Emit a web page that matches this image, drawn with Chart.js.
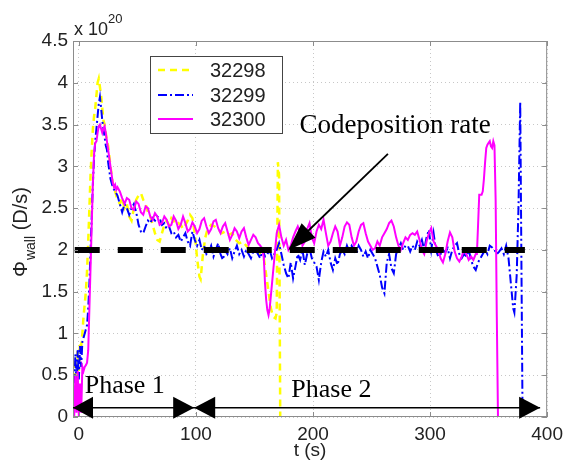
<!DOCTYPE html>
<html>
<head>
<meta charset="utf-8">
<script src="https://cdn.jsdelivr.net/npm/chart.js@4.4.0/dist/chart.umd.min.js"></script>
<style>
  html, body { margin: 0; padding: 0; background: #fff; }
</style>
</head>
<body>
<canvas id="wallFlux" width="569" height="464"></canvas>
<script>
// shots
const shotNames = ['32298', '32299', '32300'];

// shot 32298 (yellow dashed)
const t32298 = [-4,-3,-2,-1,0,1,2,3,4,5,6,7,8,9,10,11,12,13,14,15,16,17,18,19,20,21,22,23,24,25,
  27,29,31,33,35,37,39,41,43,45,47,49,51,53,55,57,59,61,63,65,67,69,71,73,75,77,79,81,83,85,
  87,89,91,93,95,97,99,101,103,104,106,108,110,113,116,119,122,125,128,131,134,137,140,143,146,149,
  152,155,158,160,162,164,166,168,169,170,171,172];
const phi32298 = [0.3,0.7,0.4,0.8,0.55,0.9,0.85,1.0,1.2,1.35,1.5,1.75,2.1,2.5,2.9,3.2,3.45,3.6,3.7,3.85,
  4.0,4.05,3.95,3.85,3.7,3.55,3.5,3.4,3.3,3.25,
  3.0,2.8,2.7,2.6,2.55,2.62,2.5,2.55,2.4,2.35,2.5,2.6,2.65,2.68,2.6,2.55,2.45,2.4,2.3,2.2,
  2.12,2.1,2.2,2.3,2.35,2.3,2.38,2.35,2.3,2.32,2.3,2.25,2.3,2.35,2.42,2.38,2.2,
  1.9,1.68,1.65,1.95,2.15,2.25,
  2.3,2.28,2.25,2.2,2.22,2.18,2.2,2.12,2.08,2.1,2.05,2.02,2.0,
  1.98,1.95,1.9,1.7,1.5,1.3,1.2,1.18,1.25,3.05,2.9,0];

// shot 32299 (blue dash-dot)
const t32299 = [-4,-3,-2,-1,0,1,2,3,4,5,6,7,8,9,10,11,12,13,14,15,16,17,18,19,20,21,22,23,24,25,
  27,29,31,33,35,37,39,41,43,45,
  47,49,51,53,55,57,59,61,63,65,
  67,69,71,73,75,77,79,81,83,85,
  87,89,91,93,95,97,99,101,103,105,
  107,109,111,113,115,117,119,121,123,125,
  127,129,131,133,135,137,139,141,143,145,
  147,149,151,153,155,157,159,161,163,165,
  167,169,171,173,175,177,179,181,183,185,
  187,189,191,193,195,197,199,201,203,205,
  207,209,211,213,215,217,219,221,223,225,
  227,229,231,233,235,237,239,241,243,245,
  247,249,251,253,255,257,259,261,263,265,
  267,269,271,273,275,277,279,281,283,285,
  287,289,291,293,295,297,299,301,303,305,
  307,309,311,313,315,317,319,321,323,325,
  327,329,331,333,335,337,339,341,343,345,
  347,349,351,353,355,357,359,361,363,365,
  367,369,371,372,374,375.5,377,379];
const phi32299 = [0.2,0.75,0.3,0.8,0.45,0.85,0.6,0.9,0.95,1.0,1.05,1.1,1.3,1.6,2.0,2.4,2.8,3.1,3.3,3.45,
  3.6,3.75,3.83,3.7,3.55,3.45,3.35,3.25,3.2,3.05,
  2.85,2.75,2.7,2.65,2.55,2.45,2.55,2.5,2.42,2.5,
  2.55,2.45,2.3,2.22,2.2,2.28,2.35,2.32,2.38,2.35,
  2.4,2.38,2.3,2.32,2.25,2.28,2.2,2.22,2.15,2.18,
  2.1,2.15,2.2,2.1,2.05,2.22,2.12,2.05,2.12,2.0,
  2.05,1.95,1.98,2.05,1.92,2.0,2.08,1.95,1.88,2.0,
  1.95,2.02,1.9,1.98,2.05,1.95,2.0,1.92,2.0,1.95,
  1.9,1.98,2.0,1.95,1.9,2.0,1.92,1.95,2.0,1.9,
  1.95,2.0,2.08,1.95,1.82,1.72,1.66,1.85,1.66,1.8,
  1.95,1.88,2.0,1.82,1.95,2.02,1.9,1.85,1.8,1.64,
  1.85,1.98,1.92,2.0,1.85,1.76,1.9,1.82,1.95,2.0,
  1.95,2.05,1.98,2.05,2.0,1.95,2.05,2.0,1.92,1.98,
  1.9,2.0,1.95,1.9,1.8,1.7,1.55,1.48,1.85,1.95,
  1.78,1.72,1.95,2.02,2.08,2.0,2.05,2.05,1.98,2.05,
  2.0,2.1,2.05,2.12,2.0,2.15,2.24,2.0,2.2,2.0,
  1.92,1.95,2.0,1.97,2.02,1.9,2.0,2.05,2.08,1.95,
  1.9,1.95,1.92,2.0,1.88,1.8,1.76,1.85,1.9,1.95,
  2.0,1.95,2.05,2.03,2.0,1.95,1.98,2.02,1.95,2.05,
  1.9,1.6,1.3,1.25,1.7,2.5,3.77,0];

// shot 32300 (magenta solid)
const t32300 = [-4,-3,-2,-1,0,1,2,3,4,5,6,7,8,9,10,11,12,13,14,15,16,17,18,19,20,21,22,23,24,25,
  26,27,28,29,30,31,32,33,
  35,37,39,41,43,45,47,49,51,53,
  55,57,59,61,63,65,67,69,71,73,
  75,77,79,81,83,85,87,89,91,93,
  95,97,99,101,103,105,107,109,111,113,
  115,117,119,121,123,125,127,129,131,133,
  135,137,139,141,143,145,147,149,151,153,
  155,157,
  158,159,160,161,162,163,164,165,166,167,168,169,
  171,173,175,177,179,181,183,185,187,189,
  191,193,195,197,199,201,203,205,207,209,
  211,213,215,217,219,221,223,225,227,229,
  231,233,235,237,239,241,243,245,247,249,
  251,253,255,257,259,261,263,265,267,269,
  271,273,275,277,279,281,283,285,287,289,
  291,293,295,297,299,301,303,305,307,309,
  311,313,315,317,319,321,323,325,327,329,
  331,333,335,337,339,
  340,341,342,343,344,345,346,347,348,349,350,351,352,353,354,355,356,357,358];
const phi32300 = [0.0,0.5,0.05,0.55,0.0,0.4,0.05,0.6,0.55,0.6,0.62,0.65,0.8,1.3,1.8,2.3,2.8,3.15,3.28,3.3,
  3.4,3.48,3.5,3.45,3.4,3.45,3.48,3.4,3.3,3.2,
  3.1,3.0,2.9,2.8,2.75,2.78,2.72,2.75,
  2.7,2.62,2.55,2.62,2.6,2.5,2.48,2.58,2.55,2.45,
  2.42,2.52,2.5,2.4,2.36,2.44,2.4,2.3,2.32,2.4,
  2.36,2.28,2.3,2.4,2.35,2.25,2.3,2.4,2.32,2.22,
  2.25,2.33,2.28,2.2,2.25,2.35,2.38,2.28,2.2,2.25,
  2.34,2.36,2.26,2.2,2.28,2.32,2.22,2.12,2.18,2.26,
  2.22,2.14,2.22,2.26,2.15,2.06,2.12,2.18,2.15,2.08,
  2.05,2.0,
  1.9,1.6,1.4,1.28,1.22,1.3,1.45,1.6,1.75,1.9,2.05,2.2,
  2.3,2.15,2.05,2.12,2.0,2.05,2.15,2.22,2.28,2.2,
  2.05,2.1,2.25,2.32,2.15,2.08,2.22,2.3,2.25,2.36,
  2.2,2.05,2.1,2.2,2.28,2.22,2.05,2.15,2.28,2.33,
  2.3,2.15,2.05,2.1,2.22,2.3,2.32,2.2,2.1,2.05,
  2.0,2.02,2.1,2.05,2.15,2.2,2.25,2.32,2.35,2.28,
  2.15,2.05,2.0,2.08,2.15,2.12,2.18,2.2,2.18,2.22,
  2.12,2.0,1.95,2.1,2.2,2.26,2.1,2.05,2.0,1.9,
  1.85,1.95,2.1,2.21,2.15,1.98,1.9,1.86,1.92,2.0,
  1.95,1.88,1.92,1.88,1.95,
  1.95,2.3,2.66,2.66,2.66,2.7,2.85,3.05,3.22,3.26,3.28,3.3,3.24,3.22,3.3,3.25,2.6,1.2,0];

// codeposition rate (dashed black line)
const codepRate = 2.0;
const codepSpan = [-3.5, 381];

// axes
const xTicks = [0, 100, 200, 300, 400];
const xTickLabels = ['0', '100', '200', '300', '400'];
const yTicks = [0, 0.5, 1, 1.5, 2, 2.5, 3, 3.5, 4, 4.5];
const yTickLabels = ['0', '0.5', '1', '1.5', '2', '2.5', '3', '3.5', '4', '4.5'];

// annotations (data coords)
const phaseBounds = [-5, 98.5, 394];
const phaseLevel = 0.11;
const phaseLabels = ['Phase 1', 'Phase 2'];
const phaseLabelPos = [[5, 0.29], [181.5, 0.24]];
const codepLabel = 'Codeposition rate';
const codepLabelPos = [188.5, 3.4];
const codepArrow = [[264, 3.15], [179, 2.0]];

const pts = (ts, vs) => ts.map((t, i) => ({x: t, y: vs[i]}));

function arrowHead(ctx, tx, ty, ux, uy, len, hw) {
  const bx = tx - ux * len, by = ty - uy * len;
  ctx.beginPath();
  ctx.moveTo(tx, ty);
  ctx.lineTo(bx - uy * hw, by + ux * hw);
  ctx.lineTo(bx + uy * hw, by - ux * hw);
  ctx.closePath();
  ctx.fill();
}

const figureExtras = {
  id: 'figureExtras',
  afterDatasetsDraw(chart) {
    const {ctx, chartArea: a, scales: {x, y}} = chart;
    ctx.save();
    // box + inward ticks
    ctx.strokeStyle = '#8c8c8c';
    ctx.lineWidth = 1;
    ctx.strokeRect(a.left + 0.5, a.top + 0.5, a.right - a.left - 1, a.bottom - a.top - 1);
    ctx.beginPath();
    for (const v of xTicks) {
      const p = Math.round(x.getPixelForValue(v)) + 0.5;
      ctx.moveTo(p, a.bottom); ctx.lineTo(p, a.bottom - 5);
      ctx.moveTo(p, a.top); ctx.lineTo(p, a.top + 5);
    }
    for (const v of yTicks) {
      const p = Math.round(y.getPixelForValue(v)) + 0.5;
      ctx.moveTo(a.left, p); ctx.lineTo(a.left + 5, p);
      ctx.moveTo(a.right, p); ctx.lineTo(a.right - 5, p);
    }
    ctx.stroke();

    // phase arrows
    ctx.strokeStyle = '#000';
    ctx.fillStyle = '#000';
    ctx.lineWidth = 1.5;
    const ay = y.getPixelForValue(phaseLevel);
    const [p0, p1, p2] = phaseBounds.map(v => x.getPixelForValue(v));
    ctx.beginPath(); ctx.moveTo(p0, ay); ctx.lineTo(p2, ay); ctx.stroke();
    arrowHead(ctx, p0, ay, -1, 0, 20, 11);
    arrowHead(ctx, p1, ay, 1, 0, 21, 11);
    arrowHead(ctx, p1, ay, -1, 0, 21, 11);
    arrowHead(ctx, p2, ay, 1, 0, 21, 11);

    ctx.font = '26px "Liberation Serif"';
    ctx.textAlign = 'left';
    ctx.textBaseline = 'alphabetic';
    phaseLabels.forEach((s, i) => {
      ctx.fillText(s, x.getPixelForValue(phaseLabelPos[i][0]), y.getPixelForValue(phaseLabelPos[i][1]));
    });

    // codeposition label + arrow
    ctx.font = '27px "Liberation Serif"';
    ctx.fillText(codepLabel, x.getPixelForValue(codepLabelPos[0]), y.getPixelForValue(codepLabelPos[1]));
    const sx = x.getPixelForValue(codepArrow[0][0]), sy = y.getPixelForValue(codepArrow[0][1]);
    const ex = x.getPixelForValue(codepArrow[1][0]), ey = y.getPixelForValue(codepArrow[1][1]);
    const d = Math.hypot(ex - sx, ey - sy), ux = (ex - sx) / d, uy = (ey - sy) / d;
    ctx.lineWidth = 1.8;
    ctx.beginPath(); ctx.moveTo(sx, sy); ctx.lineTo(ex - ux * 20, ey - uy * 20); ctx.stroke();
    arrowHead(ctx, ex, ey, ux, uy, 28, 10);
    ctx.restore();
  },
  afterDraw(chart) {
    const {ctx, chartArea: a} = chart;
    ctx.save();
    // legend
    const lx = a.left + 77, ly = a.top + 15;
    ctx.fillStyle = '#fff';
    ctx.fillRect(lx, ly, 132, 77);
    ctx.strokeStyle = '#444';
    ctx.lineWidth = 1;
    ctx.strokeRect(lx + 0.5, ly + 0.5, 132, 77);
    const rows = [14, 39, 63];
    chart.data.datasets.slice(0, 3).forEach((ds, i) => {
      const ry = ly + rows[i];
      ctx.strokeStyle = ds.borderColor;
      ctx.lineWidth = ds.borderWidth;
      ctx.setLineDash(ds.borderDash || []);
      ctx.beginPath(); ctx.moveTo(lx + 8, ry); ctx.lineTo(lx + 43, ry); ctx.stroke();
      ctx.setLineDash([]);
      ctx.fillStyle = '#222';
      ctx.font = '20px "Liberation Sans"';
      ctx.textBaseline = 'middle';
      ctx.fillText(ds.label, lx + 60, ry + 1);
    });

    // exponent
    ctx.textBaseline = 'alphabetic';
    ctx.fillStyle = '#222';
    ctx.font = '18px "Liberation Sans"';
    ctx.fillText('x 10', a.left + 1, a.top - 6);
    const ew = ctx.measureText('x 10').width;
    ctx.font = '13px "Liberation Sans"';
    ctx.fillText('20', a.left + 1 + ew, a.top - 18);

    // y title with subscript
    ctx.translate(27, 277);
    ctx.rotate(-Math.PI / 2);
    ctx.font = '20px "Liberation Sans"';
    ctx.fillText('Φ', 0, 0);
    let w = ctx.measureText('Φ').width;
    ctx.font = '14px "Liberation Sans"';
    ctx.fillText('wall', w + 1, 8);
    w += ctx.measureText('wall').width + 1;
    ctx.font = '20px "Liberation Sans"';
    ctx.fillText(' (D/s)', w, 0);
    ctx.restore();
  }
};

const tickFont = {family: 'Liberation Sans', size: 19};

new Chart(document.getElementById('wallFlux'), {
  type: 'line',
  data: {
    datasets: [
      {label: shotNames[0], data: pts(t32298, phi32298), borderColor: '#ffff00', borderWidth: 2.5,
       borderDash: [7, 5], pointRadius: 0, order: 3},
      {label: shotNames[1], data: pts(t32299, phi32299), borderColor: '#0000ff', borderWidth: 2,
       borderDash: [9, 3, 2, 3], pointRadius: 0, order: 2},
      {label: shotNames[2], data: pts(t32300, phi32300), borderColor: '#ff00ff', borderWidth: 2,
       pointRadius: 0, order: 1},
      {label: 'codeposition', data: codepSpan.map(t => ({x: t, y: codepRate})), borderColor: '#000',
       borderWidth: 6, borderDash: [25, 18], borderCapStyle: 'butt', pointRadius: 0, order: 0}
    ]
  },
  options: {
    responsive: false,
    animation: false,
    devicePixelRatio: 1,
    layout: {padding: {top: 41, right: 18, left: 0, bottom: 0}},
    plugins: {legend: {display: false}, tooltip: {enabled: false}},
    elements: {line: {tension: 0}},
    scales: {
      x: {
        type: 'linear', min: -5, max: 400,
        afterBuildTicks: s => { s.ticks = xTicks.map(v => ({value: v})); },
        afterFit: s => { s.height = 47; },
        ticks: {callback: v => xTickLabels[xTicks.indexOf(v)], font: tickFont, color: '#222',
                padding: 6, maxRotation: 0, autoSkip: false},
        grid: {drawTicks: false, color: 'rgba(0,0,0,0.22)'},
        border: {display: false, dash: [1, 3]},
        title: {display: true, text: 't (s)', font: tickFont, color: '#222', padding: {top: 0, bottom: 2}}
      },
      y: {
        type: 'linear', min: 0, max: 4.5,
        afterBuildTicks: s => { s.ticks = yTicks.map(v => ({value: v})); },
        afterFit: s => { s.width = 73; },
        ticks: {callback: v => yTickLabels[yTicks.indexOf(v)], font: tickFont, color: '#222', padding: 5},
        grid: {drawTicks: false, color: 'rgba(0,0,0,0.22)'},
        border: {display: false, dash: [1, 3]}
      }
    }
  },
  plugins: [figureExtras]
});
</script>
</body>
</html>
